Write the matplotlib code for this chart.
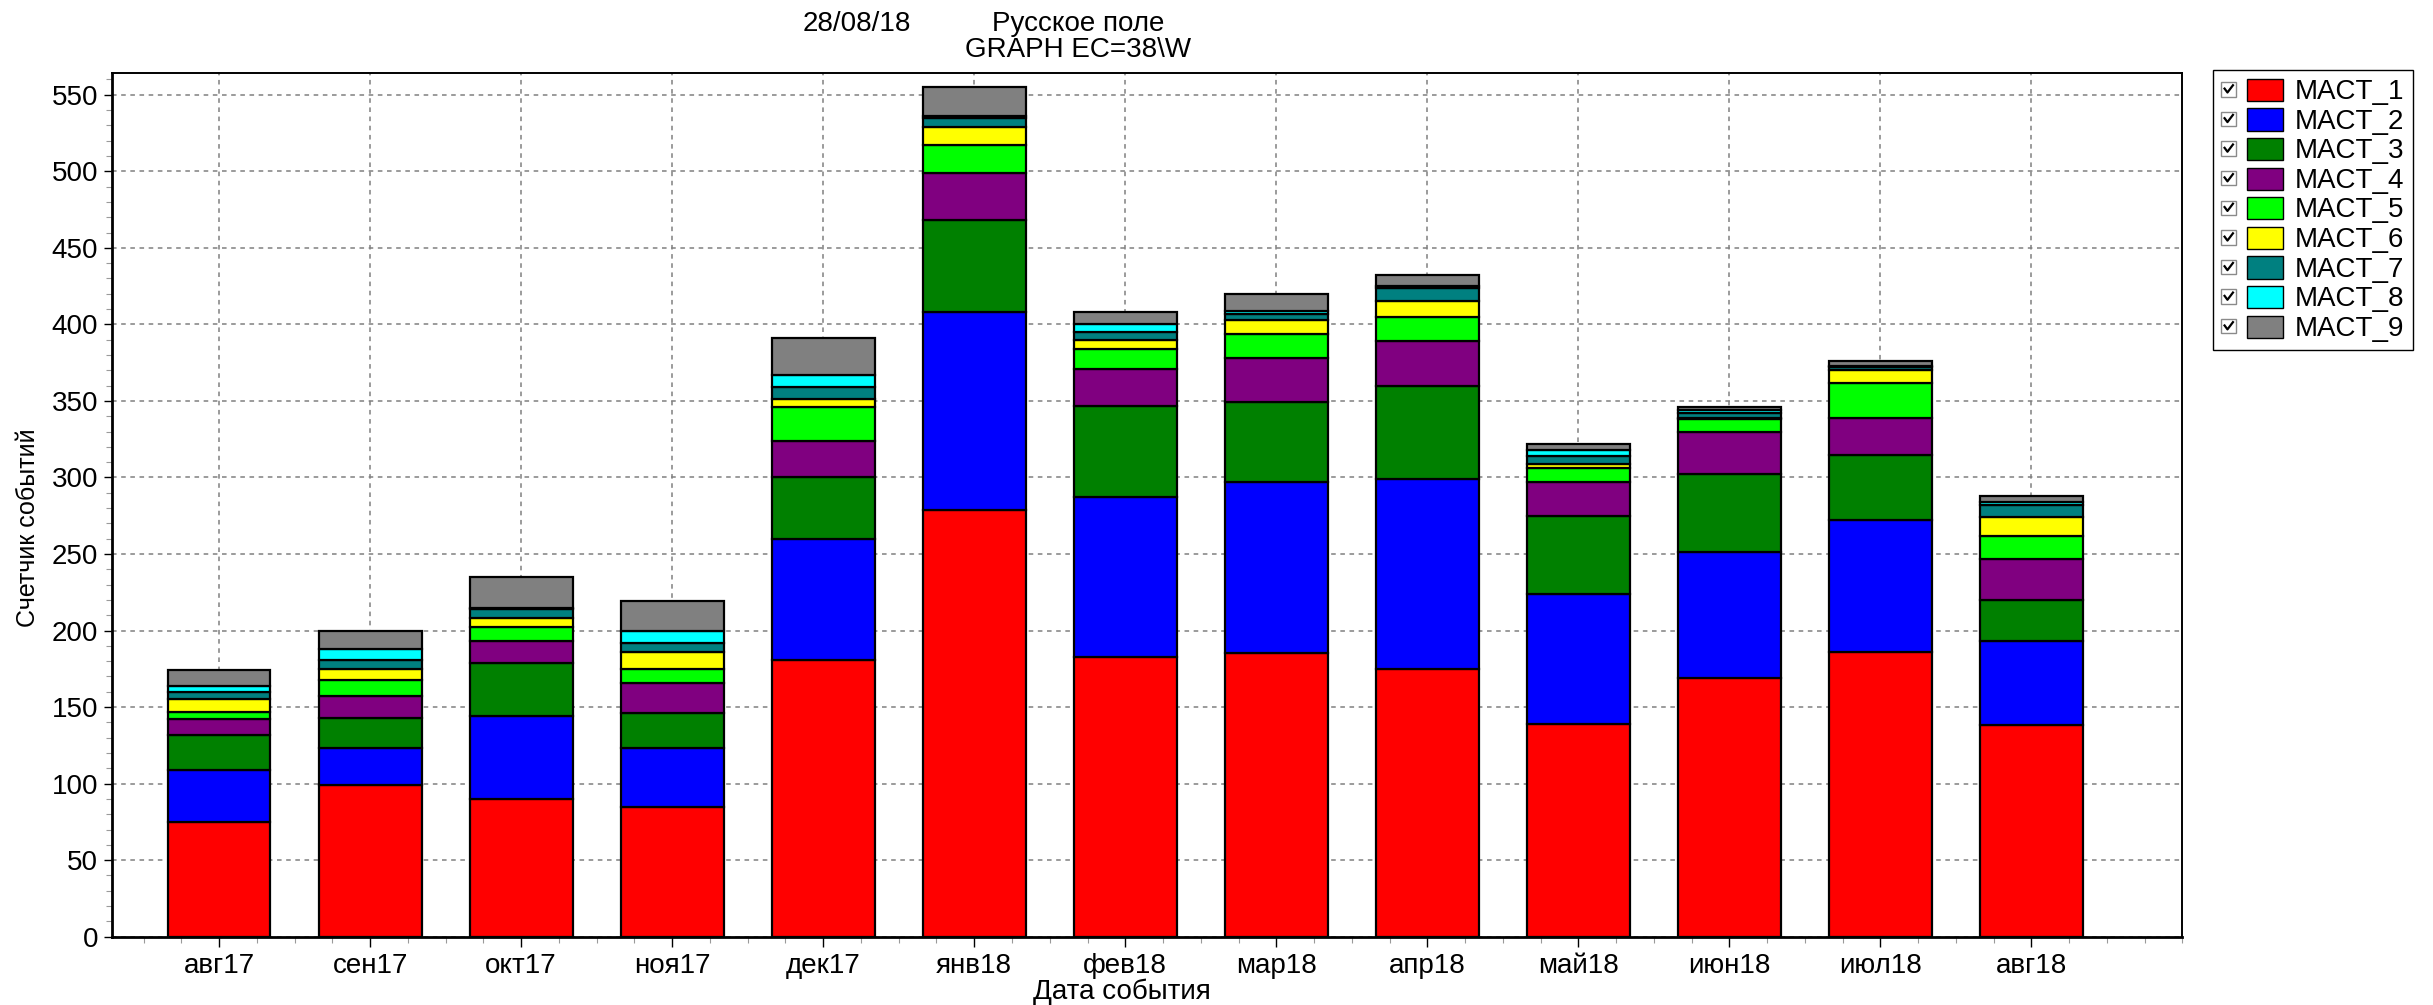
"""Stacked bar chart: event counter per month, MACT_1..MACT_9."""

import matplotlib
matplotlib.use("Agg")
import matplotlib.pyplot as plt
from matplotlib.legend_handler import HandlerBase
from matplotlib.lines import Line2D
from matplotlib.patches import Patch, Rectangle
from matplotlib.ticker import MultipleLocator


plt.rcParams["font.family"] = ["Liberation Sans", "DejaVu Sans"]

MONTHS = ["авг17", "сен17", "окт17", "ноя17", "дек17", "янв18", "фев18",
          "мар18", "апр18", "май18", "июн18", "июл18", "авг18"]

MACT_1 = [75, 99, 90, 85, 181, 279, 183, 185, 175, 139, 169, 186, 138]
MACT_2 = [34, 24, 54, 38, 79, 129, 104, 112, 124, 85, 82, 86, 55]
MACT_3 = [23, 20, 35, 23, 40, 60, 60, 52, 61, 51, 51, 43, 27]
MACT_4 = [10, 14, 14, 20, 24, 31, 24, 29, 29, 22, 28, 24, 27]
MACT_5 = [5, 11, 9, 9, 22, 18, 13, 16, 16, 9, 8, 23, 15]
MACT_6 = [8, 7, 6, 11, 5, 12, 6, 9, 10, 3, 1, 8, 12]
MACT_7 = [5, 6, 6, 6, 8, 6, 5, 4, 9, 5, 3, 2, 8]
MACT_8 = [4, 7, 1, 8, 8, 1, 5, 2, 1, 4, 2, 1, 2]
MACT_9 = [10, 12, 20, 19, 24, 19, 8, 11, 7, 4, 2, 3, 4]

SERIES_NAMES = ["MACT_1", "MACT_2", "MACT_3", "MACT_4", "MACT_5",
                "MACT_6", "MACT_7", "MACT_8", "MACT_9"]
SERIES = [MACT_1, MACT_2, MACT_3, MACT_4, MACT_5, MACT_6, MACT_7, MACT_8, MACT_9]
COLORS = ["#ff0000", "#0000ff", "#008000", "#800080", "#00ff00",
          "#ffff00", "#008080", "#00ffff", "#808080"]


class CheckedPatchHandler(HandlerBase):
    """Legend key: ticked checkbox followed by a colour swatch."""

    def create_artists(self, legend, orig_handle, xdescent, ydescent,
                       width, height, fontsize, trans):
        x0, y0 = -xdescent, -ydescent
        s = height * 0.68
        by = y0 + (height - s) / 2
        box = Rectangle((x0, by), s, s, facecolor="white", edgecolor="#8a8a8a",
                        linewidth=1.0, transform=trans)
        tick = Line2D([x0 + s * 0.22, x0 + s * 0.42, x0 + s * 0.8],
                      [by + s * 0.55, by + s * 0.28, by + s * 0.78],
                      color="black", linewidth=1.6, transform=trans)
        sw = Rectangle((x0 + width * 0.42, y0 - height * 0.05), width * 0.58, height * 1.05,
                       facecolor=orig_handle.get_facecolor(), edgecolor="black",
                       linewidth=1.0, transform=trans)
        return [box, tick, sw]


def main():
    fig = plt.figure(figsize=(24.33, 10.05), dpi=100)
    ax = fig.add_axes([0.046, 0.068, 0.851, 0.859])

    x = list(range(len(MONTHS)))
    bottom = [0] * len(MONTHS)
    for name, values, color in zip(SERIES_NAMES, SERIES, COLORS):
        ax.bar(x, values, width=0.68, bottom=bottom, color=color,
               edgecolor="black", linewidth=1.6, label=name, zorder=2)
        bottom = [b + v for b, v in zip(bottom, values)]

    ax.set_xlim(-0.71, 13.0)
    ax.set_ylim(0, 564)
    ax.set_xticks(x)
    ax.set_xticklabels(MONTHS, fontsize=20)
    ax.yaxis.set_major_locator(MultipleLocator(50))
    ax.yaxis.set_minor_locator(MultipleLocator(10))
    ax.xaxis.set_minor_locator(MultipleLocator(0.25))
    ax.tick_params(axis="y", which="major", labelsize=20, length=6, width=1, pad=4)
    ax.tick_params(axis="x", which="major", length=7, width=1, pad=5)
    ax.tick_params(which="minor", length=4, width=0.8, color="#9a9a9a")

    ax.grid(True, which="major", color="#808080", linestyle=(0, (3, 3)), linewidth=1.1)
    ax.set_axisbelow(True)
    for side in ["left", "bottom"]:
        ax.spines[side].set_linewidth(2.0)
    for side in ["top", "right"]:
        ax.spines[side].set_linewidth(1.4)

    fig.text(0.352, 0.976, "28/08/18", ha="center", va="center", fontsize=20)
    fig.text(0.443, 0.976, "Русское поле", ha="center", va="center", fontsize=20)
    fig.text(0.443, 0.950, "GRAPH EC=38\\W", ha="center", va="center", fontsize=20)
    fig.text(0.461, 0.013, "Дата события", ha="center", va="center", fontsize=20)
    fig.text(0.0115, 0.475, "Счетчик событий", ha="center", va="center",
             rotation=90, fontsize=18)

    handles = [Patch(facecolor=c, edgecolor="black") for c in COLORS]
    fig.legend(
        handles,
        SERIES_NAMES,
        loc="upper left",
        bbox_to_anchor=(0.9096, 0.930),
        handler_map={Patch: CheckedPatchHandler()},
        fontsize=20,
        handlelength=2.2,
        handleheight=0.8,
        handletextpad=0.45,
        labelspacing=0.12,
        borderpad=0.3,
        borderaxespad=0,
        frameon=True,
        fancybox=False,
        shadow=False,
        edgecolor="black",
        framealpha=1,
    )

    fig.savefig("out.png", dpi=100, facecolor="white")
    plt.close(fig)


if __name__ == "__main__":
    main()
